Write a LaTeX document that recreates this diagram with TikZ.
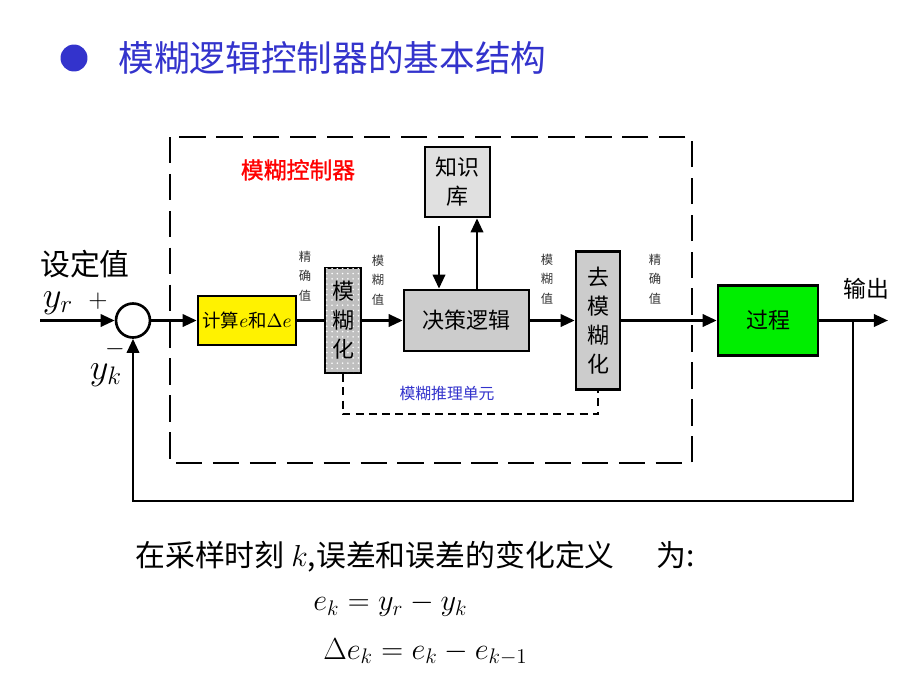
\documentclass[tikz,border=0pt]{standalone}
\usepackage{fontspec}
\newfontfamily\cjk{Noto Sans CJK SC}
\newfontfamily\cjkbf[FakeBold=1.2]{Noto Sans CJK SC}
\usetikzlibrary{arrows.meta,patterns}
\definecolor{titleblue}{HTML}{3333CC}
\definecolor{boxgray}{HTML}{CCCCCC}
\definecolor{kbgray}{HTML}{E0E0E0}
\definecolor{procgreen}{HTML}{00EE00}
\tikzset{
  blk/.style={draw, line width=1.5pt, inner sep=0pt, align=center,
    font=\cjk\fontsize{12.5}{16.5}\selectfont},
  sig/.style={line width=1.5pt, -{Triangle[length=8pt,width=7pt]}},
  wire/.style={line width=1.5pt},
  vlbl/.style={align=center, inner sep=0pt, text=black!80,
    font=\cjk\fontsize{7}{11}\selectfont},
}
\begin{document}
\begin{tikzpicture}[x=0.02cm, y=-0.02cm]
    \useasboundingbox (0,0) rectangle (920,690);
    % title
    \node[circle, fill=titleblue, minimum size=0.54cm, inner sep=0pt] (bullet) at (74,58) {};
    \node[anchor=west, inner sep=0pt, text=titleblue,
      font=\cjk\fontsize{20.3}{24}\selectfont] (title) at (118,58) {模糊逻辑控制器的基本结构};
    % controller frame
    \draw[line width=1.5pt, dash pattern=on 15pt off 6pt] (170,137) rectangle (692,463);
    \node[text=red, font=\cjkbf\fontsize{13}{15}\selectfont] (ctrllbl) at (298,170) {模糊控制器};
    % blocks
    \node[circle, draw, line width=1.5pt, fill=white, minimum size=0.68cm, inner sep=0pt] (sum) at (133,320.5) {};
    \node[blk, fill=yellow, minimum width=1.96cm, minimum height=0.98cm,
      font=\cjk\fontsize{10.5}{12}\selectfont] (calc) at (247,320.5) {计算$e$和$\Delta e$};
    \node[blk, fill=gray!50, postaction={pattern=dots, pattern color=white},
      minimum width=0.72cm, minimum height=2.10cm] (fuzz) at (343,320.5) {模\\糊\\化};
    \node[blk, fill=kbgray, minimum width=1.30cm, minimum height=1.40cm] (kb) at (457.5,182) {知识\\库};
    \node[blk, fill=boxgray, minimum width=2.50cm, minimum height=1.22cm] (dec) at (466.5,320.5) {决策逻辑};
    \node[blk, fill=boxgray, minimum width=0.88cm, minimum height=2.76cm] (defuzz) at (598,320.5) {去\\模\\糊\\化};
    \node[blk, fill=procgreen, minimum width=2.0cm, minimum height=1.4cm] (proc) at (768,320.5) {过程};
    % small labels
    \node[vlbl] (lbla) at (305,276) {精\\确\\值};
    \node[vlbl] (lblb) at (378,280) {模\\糊\\值};
    \node[vlbl] (lblc) at (547,279) {模\\糊\\值};
    \node[vlbl] (lbld) at (655,279) {精\\确\\值};
    \node[text=titleblue, font=\cjk\fontsize{9}{11}\selectfont] (inflbl) at (447,394) {模糊推理单元};
    % input / output labels
    \node[font=\cjk\fontsize{17}{20}\selectfont] (setlbl) at (85,264) {设定值};
    \node[font=\fontsize{20}{24}\selectfont] (yr) at (58,303) {$y_r$};
    \node[font=\fontsize{15}{18}\selectfont] (plus) at (98,301) {$+$};
    \node[font=\fontsize{15}{18}\selectfont] (minus) at (115,349) {$-$};
    \node[font=\fontsize{20}{24}\selectfont] (yk) at (106,375) {$y_k$};
    \node[font=\cjk\fontsize{13}{15}\selectfont] (outlbl) at (866,289) {输出};
    % connectors
    \coordinate (in) at (40,320.5);
    \coordinate (out) at (888,320.5);
    \coordinate (br) at (853,320.5);
    \coordinate (fb) at (853,501);
    \draw[sig] (in) -- (sum);
    \draw[sig] (sum) -- (calc);
    \draw[wire] (calc) -- (fuzz);
    \draw[sig] (fuzz) -- (dec);
    \draw[sig] (dec) -- (defuzz);
    \draw[sig] (defuzz) -- (proc);
    \draw[sig] (proc) -- (out);
    \draw[sig] (br) -- (fb) -| (sum.south);
    \coordinate (kbdn) at ([xshift=-0.37cm]kb.south);
    \coordinate (kbup) at ([xshift=0.39cm]kb.south);
    \draw[sig, shorten <=0.15cm] (kbdn) -- (kbdn |- dec.north);
    \draw[sig] (kbup |- dec.north) -- (kbup);
    \draw[line width=1.2pt, dash pattern=on 4.5pt off 3pt] (fuzz.south) -- ++(0,40) -| (defuzz.south);
    % definitions
    \node[anchor=west, inner sep=0pt, font=\cjk\fontsize{17}{20}\selectfont] (deftxt) at (135,557)
      {在采样时刻\ $k$,误差和误差的变化定义\hspace{1.4em}为:};
    \node[anchor=west, inner sep=0pt, font=\fontsize{17}{20}\selectfont] (eqa) at (313,605) {$e_k = y_r - y_k$};
    \node[anchor=west, inner sep=0pt, font=\fontsize{16.5}{20}\selectfont] (eqb) at (323,652) {$\Delta e_k = e_k - e_{k-1}$};
\end{tikzpicture}
\end{document}
